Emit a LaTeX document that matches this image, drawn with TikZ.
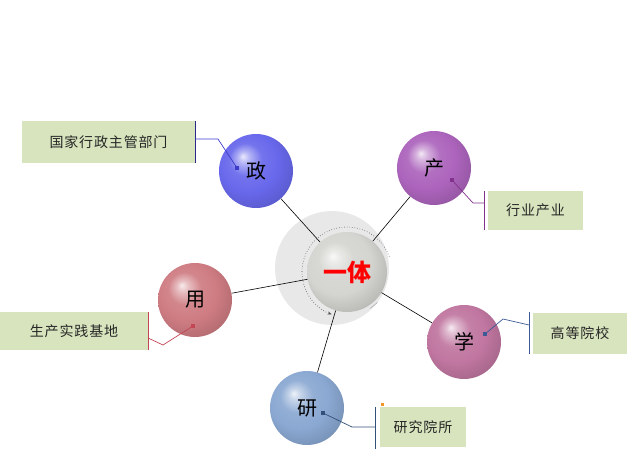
\documentclass[tikz,border=0pt]{standalone}
\usepackage{fontspec}
\newfontfamily\cjk{Noto Sans CJK SC}
\newfontfamily\cjkl[LetterSpace=6]{Noto Sans CJK SC}
\usetikzlibrary{arrows.meta}
\definecolor{czheng}{RGB}{104,104,236}
\definecolor{cchan}{RGB}{172,100,188}
\definecolor{cyong}{RGB}{206,124,130}
\definecolor{cxue}{RGB}{192,118,160}
\definecolor{cyan}{RGB}{138,168,210}
\definecolor{cctr}{RGB}{212,212,208}
\definecolor{boxfill}{RGB}{215,228,189}
\definecolor{bgc}{RGB}{232,232,232}
\definecolor{lzheng}{RGB}{60,60,200}
\definecolor{lchan}{RGB}{130,50,140}
\definecolor{lyong}{RGB}{195,70,85}
\definecolor{lxue}{RGB}{60,90,150}
\definecolor{lyan}{RGB}{50,80,120}
\definecolor{orng}{RGB}{240,150,40}
\colorlet{sphc}{blue}
\pgfdeclareradialshading[sphc]{sphere}{\pgfqpoint{-9bp}{10bp}}{%
 color(0bp)=(sphc!15!white);
 color(4bp)=(sphc!50!white);
 color(11bp)=(sphc!92!white);
 color(20bp)=(sphc);
 color(30bp)=(sphc!88!black);
 color(38bp)=(sphc!78!black);
 color(50bp)=(sphc!70!black)}
\tikzset{
 sph/.style={circle, minimum size=74pt, inner sep=0pt, shading=sphere,
   /utils/exec={\colorlet{sphc}{#1}}, font=\cjk\fontsize{20}{20}\selectfont},
 lbl/.style={fill=boxfill, inner sep=0pt, font=\cjkl\fontsize{14}{14}\selectfont, text=black!85},
 link/.style={line width=0.6pt},
 conn/.style={line width=0.7pt},
 dot/.style={fill=#1, inner sep=0pt, minimum size=4pt},
}
\begin{document}
\begin{tikzpicture}[x=1pt,y=1pt]
\useasboundingbox (0,0) rectangle (640,-449);
% background halo
\fill[bgc] (332,-268) circle (57);
% spheres
\node[sph=czheng] (zheng) at (256,-171) {政};
\node[sph=cchan] (chan) at (434,-168) {产};
\node[sph=cyong] (yong) at (195,-300) {用};
\node[sph=cxue] (xue) at (464,-342) {学};
\node[sph=cyan] (yan) at (307,-408) {研};
\node[sph=cctr, minimum size=80pt, font=\cjk\bfseries\fontsize{24}{24}\selectfont, text=red] (ctr) at (347,-272) {一体};
% links
\draw[link] (ctr) -- (zheng);
\draw[link] (ctr) -- (chan);
\draw[link] (ctr) -- (yong);
\draw[link] (ctr) -- (xue);
\draw[link] (ctr) -- (yan);
% dotted ring
\draw[dotted, line width=0.6pt, black!70, -{Stealth[length=4pt,width=3pt]}] (ctr.center) ++(20:45) arc (20:250:45);
\draw[black!35, line width=0.5pt] (ctr.center) ++(-45:43) arc (-45:-58:43);
% label boxes
\node[lbl, minimum width=173pt, minimum height=42pt] (b1) at (108.5,-142) {国家行政主管部门};
\node[lbl, minimum width=95pt, minimum height=39pt] (b2) at (535.5,-210.5) {行业产业};
\node[lbl, minimum width=148pt, minimum height=38pt] (b3) at (74,-331) {生产实践基地};
\node[lbl, minimum width=94pt, minimum height=41pt] (b4) at (580,-333.5) {高等院校};
\node[lbl, minimum width=86pt, minimum height=40pt] (b5) at (423,-427) {研究院所};
% bars
\coordinate (bar1t) at (195,-121); \coordinate (bar1b) at (195,-163);
\coordinate (bar2t) at (484,-191); \coordinate (bar2b) at (484,-230);
\coordinate (bar3t) at (148,-312); \coordinate (bar3b) at (148,-350);
\coordinate (bar4t) at (529,-312); \coordinate (bar4b) at (529,-354);
\coordinate (bar5t) at (375,-407); \coordinate (bar5b) at (375,-449);
\draw[conn, black!30!lzheng] (bar1t) -- (bar1b);
\draw[conn, lchan] (bar2t) -- (bar2b);
\draw[conn, lyong] (bar3t) -- (bar3b);
\draw[conn, lxue] (bar4t) -- (bar4b);
\draw[conn, lyan] (bar5t) -- (bar5b);
\node[fill=orng, inner sep=0pt, minimum size=3pt] (osq) at (382,-404) {};
% dots
\node[dot=lzheng] (d1) at (237,-168) {};
\node[dot=lchan] (d2) at (452,-180) {};
\node[dot=lyong] (d3) at (193,-326) {};
\node[dot=lxue] (d4) at (485,-334) {};
\node[dot=lyan] (d5) at (323,-413) {};
% connectors
\coordinate (k1) at (218,-139); \coordinate (e1) at (195,-139);
\coordinate (k2) at (473,-203); \coordinate (e2) at (484,-203);
\coordinate (k3) at (163,-345); \coordinate (e3) at (148,-338);
\coordinate (k4) at (503,-319); \coordinate (e4) at (529,-325);
\coordinate (k5) at (352,-427); \coordinate (e5) at (375,-427);
\draw[conn, lzheng] (d1.center) -- (k1) -- (e1);
\draw[conn, lchan] (d2.center) -- (k2) -- (e2);
\draw[conn, lyong] (d3.center) -- (k3) -- (e3);
\draw[conn, lxue] (d4.center) -- (k4) -- (e4);
\draw[conn, lyan] (d5.center) -- (k5) -- (e5);
\end{tikzpicture}
\end{document}
